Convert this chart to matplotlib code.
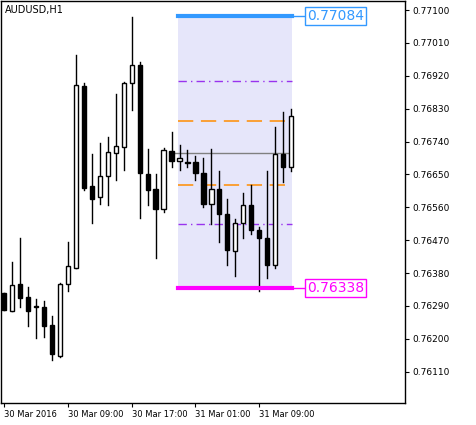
import matplotlib
matplotlib.use('Agg')
from matplotlib import pyplot as plt
from matplotlib.patches import Rectangle

# H1 candles
opens  = [0.76324, 0.76275, 0.76349, 0.76313, 0.76291, 0.76286, 0.76237, 0.76152, 0.76349, 0.76395,
          0.76893, 0.76617, 0.76589, 0.76647, 0.76710, 0.76726, 0.76901, 0.76950, 0.76650, 0.76609,
          0.76554, 0.76715, 0.76688, 0.76685, 0.76685, 0.76655, 0.76570, 0.76609, 0.76543, 0.76439,
          0.76516, 0.76565, 0.76499, 0.76477, 0.76403, 0.76707, 0.76669]
highs  = [0.76324, 0.76409, 0.76475, 0.76343, 0.76308, 0.76302, 0.76261, 0.76352, 0.76464, 0.76977,
          0.76901, 0.76707, 0.76737, 0.76753, 0.76871, 0.76904, 0.77081, 0.76958, 0.76721, 0.76652,
          0.76723, 0.76767, 0.76731, 0.76718, 0.76701, 0.76696, 0.76721, 0.76660, 0.76584, 0.76529,
          0.76600, 0.76622, 0.76507, 0.76660, 0.76781, 0.76822, 0.76830]
lows   = [0.76278, 0.76275, 0.76286, 0.76234, 0.76201, 0.76204, 0.76141, 0.76149, 0.76330, 0.76395,
          0.76606, 0.76518, 0.76570, 0.76565, 0.76636, 0.76663, 0.76827, 0.76532, 0.76565, 0.76420,
          0.76546, 0.76669, 0.76663, 0.76671, 0.76636, 0.76562, 0.76513, 0.76466, 0.76401, 0.76371,
          0.76477, 0.76486, 0.76332, 0.76365, 0.76395, 0.76628, 0.76660]
closes = [0.76278, 0.76346, 0.76311, 0.76275, 0.76286, 0.76234, 0.76158, 0.76349, 0.76398, 0.76895,
          0.76614, 0.76584, 0.76647, 0.76712, 0.76729, 0.76901, 0.76950, 0.76655, 0.76606, 0.76554,
          0.76718, 0.76688, 0.76696, 0.76680, 0.76655, 0.76568, 0.76609, 0.76543, 0.76442, 0.76518,
          0.76565, 0.76499, 0.76477, 0.76401, 0.76707, 0.76669, 0.76811]

channelHigh = 0.77084
channelLow = 0.76338
dashDotLevels = [0.76906, 0.76513]
dashLevels = [0.76797, 0.76622]
midLevel = 0.76710
yTicks = [0.77100, 0.77010, 0.76920, 0.76830, 0.76740, 0.76650, 0.76560, 0.76470,
          0.76380, 0.76290, 0.76200, 0.76110]
xTickPos = [0, 8, 16, 24, 32]
xTickLabels = ["30 Mar 2016", "30 Mar 09:00", "30 Mar 17:00", "31 Mar 01:00", "31 Mar 09:00"]

fig = plt.figure(figsize=(4.77, 4.25), dpi=100)
ax = fig.add_axes([0.002, 22 / 425, 404 / 477, 402 / 425])
ax.set_xlim(-0.375, 50.25)
ax.set_ylim(0.76024, 0.77125)

rectLeft, rectRight = 21.85, 36.1
ax.add_patch(Rectangle((rectLeft, channelLow), rectRight - rectLeft, channelHigh - channelLow,
                       facecolor='#e6e6fa', edgecolor='none', zorder=0))

for i in range(len(opens)):
    o, h, l, c = opens[i], highs[i], lows[i], closes[i]
    ax.plot([i, i], [l, h], color='black', lw=1, zorder=2)
    fc = 'white' if c >= o else 'black'
    ax.add_patch(Rectangle((i - 0.26, min(o, c)), 0.52, max(abs(c - o), 0.00002),
                           facecolor=fc, edgecolor='black', lw=1, zorder=3))

for lv in dashDotLevels:
    ax.plot([rectLeft, rectRight], [lv, lv], color='#9933ee', lw=1, ls=(0, (6, 3, 1, 3)), zorder=1)
for lv in dashLevels:
    ax.plot([rectLeft, rectRight], [lv, lv], color='#ff8c00', lw=1.1, ls=(0, (10, 5)), zorder=1)
ax.plot([21.4, rectRight], [midLevel, midLevel], color='gray', lw=1, zorder=1)

ax.plot([rectLeft, rectRight], [channelHigh, channelHigh], color='#3399ff', lw=3, zorder=4)
ax.plot([rectLeft, rectRight], [channelLow, channelLow], color='#ff00ff', lw=3, zorder=4)
for lv, col in [(channelHigh, '#3399ff'), (channelLow, '#ff00ff')]:
    ax.plot([rectRight, 37.7], [lv, lv], color=col, lw=1, clip_on=False)
    ax.text(38.0, lv, "%.5f" % lv, color=col, fontsize=10, va='center', ha='left',
            bbox=dict(boxstyle='square,pad=0.15', fc='white', ec=col, lw=1))

ax.text(0.01, 0.99, "AUDUSD,H1", transform=ax.transAxes, fontsize=7, va='top', ha='left')

ax.yaxis.tick_right()
ax.set_yticks(yTicks)
ax.set_yticklabels(["%.5f" % v for v in yTicks], fontsize=6.5)
ax.set_xticks(xTickPos)
ax.set_xticklabels(xTickLabels, fontsize=6, ha='left')
ax.tick_params(length=3, pad=2)
for s in ax.spines.values():
    s.set_linewidth(1)

fig.savefig("out.png", dpi=100)
